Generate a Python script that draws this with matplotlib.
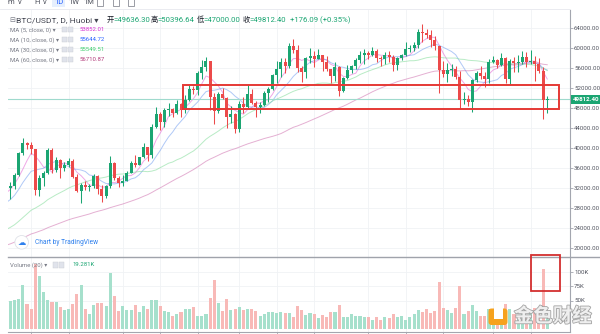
import numpy as np
import pandas as pd
import matplotlib
matplotlib.use("Agg")
import matplotlib.pyplot as plt
import matplotlib.patheffects as pe
from matplotlib.patches import Rectangle, Circle, FancyBboxPatch
from matplotlib.lines import Line2D
from matplotlib.transforms import blended_transform_factory

plt.rcParams['font.family'] = ['Roboto', 'Noto Sans CJK SC', 'DejaVu Sans']

# BTC/USDT daily candles (Huobi), 2021-01-04 .. 2021-05-14
opens = [
    33500, 32000, 32400, 34700, 39000, 41000, 40600, 39800, 31700, 34000,
    35000, 39600, 35700, 37600, 36000, 36700, 37500, 34300, 31500, 32600,
    32200, 32400, 34400, 31800, 30400, 32400, 37000, 34000, 33100, 33500,
    35100, 37000, 36700, 38200, 40200, 38700, 44200, 46800, 45200, 47700,
    47900, 47000, 48900, 47600, 49600, 51900, 51700, 55000, 56300, 57400,
    50200, 47500, 50800, 50100, 46300, 46800, 43800, 48900, 48300, 50900,
    49000, 48200, 48600, 51000, 51800, 54600, 55800, 57300, 56500, 60500,
    59600, 56000, 55300, 58000, 58400, 57900, 58600, 57200, 55800, 54400,
    56300, 51400, 54000, 55700, 56400, 57600, 58600, 59000, 58700, 59400,
    58100, 57900, 58700, 58300, 56700, 58100, 58666.9, 59900, 60100, 60700,
    63300, 63000, 62600, 61600, 60400, 55700, 54800, 55600, 55900, 54200,
    49700, 49900, 49238.1, 53600, 55000, 54500, 53800, 57300, 57700, 56700,
    58000, 53800, 57500, 57000, 57200, 58300, 57187.15, 57500, 56900, 55411.34,
    49636.30,
]
highs = [
    33700, 33300, 35000, 39300, 42000, 41300, 41200, 39900, 34600, 35500,
    40100, 40000, 38200, 37900, 37300, 38000, 37800, 34900, 33000, 33400,
    32900, 34900, 34700, 32600, 32600, 38500, 37300, 34400, 34700, 35400,
    37500, 38700, 38300, 41000, 40300, 44800, 48200, 47300, 48100, 49000,
    48150, 49700, 49000, 50600, 52600, 52500, 55500, 57700, 58350, 57500,
    51000, 51300, 52000, 50200, 48400, 47000, 49500, 50200, 52600, 51800,
    49400, 49200, 51400, 52200, 54900, 57400, 58100, 58000, 61000, 61800,
    60600, 56500, 58200, 60000, 59400, 59900, 58600, 58400, 55900, 57200,
    56500, 54300, 56700, 56600, 58000, 59400, 59800, 59500, 60200, 59800,
    58500, 59200, 59500, 58600, 58300, 58900, 61300, 60600, 61200, 63800,
    64850, 63800, 63600, 62500, 60500, 57500, 57000, 56800, 56500, 55400,
    51200, 50600, 53900, 55400, 56400, 55200, 57900, 58400, 57900, 59000,
    58200, 57900, 58300, 58600, 59500, 59300, 59600, 58400, 58000, 56300,
    50396.64,
]
lows = [
    28800, 29900, 31900, 34500, 38600, 39900, 38800, 30600, 30500, 32500,
    34800, 35100, 35300, 34000, 35500, 36200, 34000, 31200, 29100, 31600,
    31400, 32100, 30900, 29300, 30000, 32000, 33600, 32300, 32400, 33400,
    35000, 36200, 36600, 38100, 37400, 38000, 44000, 43700, 44300, 46500,
    46200, 46900, 46300, 47000, 49400, 50900, 50700, 53900, 55500, 47600,
    44900, 47000, 49800, 44100, 45000, 43000, 43300, 47100, 48100, 48800,
    46300, 47100, 48500, 49300, 51600, 53000, 54300, 55000, 56000, 59000,
    55300, 53300, 54100, 57000, 56300, 57800, 55500, 55400, 53000, 53500,
    50500, 51200, 53800, 55000, 55900, 57100, 56900, 57900, 58400, 57300,
    56500, 56800, 57300, 55500, 55700, 57600, 58400, 59200, 59400, 60000,
    61300, 62000, 60200, 59700, 51100, 54200, 53300, 54500, 53800, 47800,
    48800, 48500, 47300, 53200, 53800, 52300, 53000, 57000, 56000, 56400,
    53100, 52900, 55200, 55300, 56900, 56200, 56800, 53400, 55000, 45800,
    47000,
]
closes = [
    32000, 32400, 34700, 39000, 41000, 40600, 39800, 31700, 34000, 35000,
    39600, 35700, 37600, 36000, 36700, 37500, 34300, 31500, 32600, 32200,
    32400, 34400, 31800, 30400, 32400, 37000, 34000, 33100, 33500, 35100,
    37000, 36700, 38200, 40200, 38700, 44200, 46800, 45200, 47700, 47900,
    47000, 48900, 47600, 49600, 51900, 51700, 55000, 56300, 57400, 50200,
    47500, 50800, 50100, 46300, 46800, 43800, 48900, 48300, 50900, 49000,
    48200, 48600, 51000, 51800, 54600, 55800, 57300, 56500, 60500, 59600,
    56000, 55300, 58000, 58400, 57900, 58600, 57200, 55800, 54400, 56300,
    51400, 54000, 55700, 56400, 57600, 58600, 59000, 58700, 59400, 58100,
    57900, 58700, 58300, 56700, 58100, 58666.9, 59900, 60100, 60700, 63300,
    63000, 62600, 61600, 60400, 55700, 54800, 55600, 55900, 54200, 49700,
    49900, 49238.1, 53600, 55000, 54500, 53800, 57300, 57700, 56700, 58000,
    53800, 57500, 57000, 57200, 58300, 57187.15, 57500, 56900, 55411.34, 49636.31,
    49812.40,
]
# daily volume, thousands of BTC
volumes_k = [
    58, 50, 52, 53, 78, 44, 35, 115, 94, 65,
    51, 48, 48, 39, 33, 35, 44, 62, 77, 35,
    27, 43, 46, 46, 40, 98, 58, 32, 40, 33,
    33, 42, 30, 40, 36, 51, 52, 40, 32, 30,
    24, 26, 30, 35, 36, 39, 24, 24, 27, 55,
    87, 46, 32, 53, 33, 35, 39, 33, 36, 36,
    32, 24, 26, 30, 30, 29, 30, 29, 29, 22,
    40, 33, 25, 28, 27, 19, 25, 22, 30, 31,
    42, 22, 22, 27, 24, 24, 21, 21, 16, 21,
    16, 22, 19, 27, 21, 24, 16, 21, 27, 34,
    31, 35, 28, 32, 82, 37, 33, 28, 37, 76,
    26, 32, 43, 32, 24, 24, 35, 25, 28, 28,
    45, 35, 27, 25, 28, 22, 30, 37, 30, 105,
    19.281,
]
# closes of the sessions before the first candle, warm-up for the moving averages
warmup_closes = [
    15580, 15570, 14830, 15480, 15330, 15290, 15700, 16280, 16320, 16070,
    15960, 16710, 17660, 17780, 17800, 18660, 18700, 18410, 18370, 19160,
    18720, 17150, 17140, 17720, 18190, 19700, 18770, 19200, 19420, 18650,
    19150, 19360, 19170, 18320, 18540, 18250, 18040, 18810, 19180, 19270,
    19430, 21340, 22800, 23110, 23820, 23460, 22720, 23810, 23230, 23730,
    24710, 26490, 26280, 27080, 27390, 28880, 28920, 29330, 32180, 33000,
]
ma_periods = [5, 10, 30, 60]
price_ticks = list(range(20000, 64001, 4000))
volume_ticks = [50, 75, 100]
time_tick_idx = [6, 15, 28, 37, 46, 56, 65, 74, 87, 96, 105, 117, 126]

# colours
UP, DOWN = '#1ba572', '#ec4a4a'
VUP, VDOWN = '#a6e0cc', '#f8b9b7'
AXIS, GRID = '#a3a6af', '#f0f2f5'
TXT, GREY = '#434651', '#787b86'
MA_LINE = ['#e35fd3', '#6f9cf0', '#7edb96', '#cf6fae']
MA_TEXT = ['#d62fd0', '#2962ff', '#3fcf6f', '#b23a7a']
BOX_RED = '#e53935'

W, H = 600, 334
fig = plt.figure(figsize=(W / 100, H / 100), dpi=100)
fig.patch.set_facecolor('white')


def fx(px):
    return px / W


def fy(py):
    return 1 - py / H


X0, DX = 6.2, 4.162                      # pixel centre of first candle, candle pitch
PANE_L, PANE_R = 7.5, 570.0
TOP, SEP, BOT = 10.0, 256.7, 331.5

ax = fig.add_axes([fx(PANE_L), fy(SEP), (PANE_R - PANE_L) / W, (SEP - TOP) / H])
axv = fig.add_axes([fx(PANE_L), fy(BOT), (PANE_R - PANE_L) / W, (BOT - SEP) / H])
for a in (ax, axv):
    a.set_xlim((PANE_L - X0) / DX, (PANE_R - X0) / DX)
    a.set_facecolor('none')
    for s in ('left', 'top'):
        a.spines[s].set_visible(False)
    a.spines['right'].set_color(AXIS)
    a.spines['right'].set_linewidth(0.8)
    a.set_axisbelow(True)
ax.spines['bottom'].set_visible(False)
axv.spines['bottom'].set_color(AXIS)
axv.spines['bottom'].set_linewidth(0.8)
ax.set_ylim(18320, 67660)
axv.set_ylim(-3.85, 126.9)

ax.set_yticks(price_ticks)
ax.set_xticks(time_tick_idx)
ax.tick_params(axis='y', left=False, right=True, length=2, width=0.6, color=AXIS,
               labelleft=False, labelright=False)
ax.tick_params(axis='x', bottom=False, labelbottom=False)
ax.grid(True, color=GRID, lw=0.6)
axv.set_yticks(volume_ticks)
axv.set_xticks(time_tick_idx)
axv.tick_params(axis='y', left=False, right=True, length=2, width=0.6, color=AXIS,
                labelleft=False, labelright=False)
axv.tick_params(axis='x', bottom=True, length=3, width=0.6, color=AXIS, labelbottom=False)
axv.grid(True, color=GRID, lw=0.6)

idx = np.arange(len(closes))
o, h, l, c = (np.asarray(v, dtype=float) for v in (opens, highs, lows, closes))
up = c >= o
ccol = np.where(up, UP, DOWN)

# moving averages
series = pd.Series(np.concatenate([warmup_closes, c]))
n_warm = len(warmup_closes)
ma_last = []
for period, col in zip(ma_periods, MA_LINE):
    ma = series.rolling(period).mean().to_numpy()[n_warm:]
    ma_last.append(ma[-1])
    ax.plot(idx, ma, color=col, lw=0.7, alpha=0.55, zorder=2)

# last-price line
ax.axhline(c[-1], color='#9fdacd', lw=0.8, zorder=2)

# candles
ax.vlines(idx, l, h, colors=ccol, lw=0.75, zorder=3)
ax.bar(idx, np.maximum(np.abs(c - o), 90), bottom=np.minimum(o, c), width=0.72,
       color=ccol, linewidth=0, zorder=4)

# volume
axv.bar(idx, volumes_k, width=0.74, color=np.where(up, VUP, VDOWN), linewidth=0)

# support zone drawn on the price pane
ZONE_X0, ZONE_X1 = 42.55, 132.9
ZONE_LO, ZONE_HI = 47800, 52660
ax.add_patch(Rectangle((ZONE_X0, ZONE_LO), ZONE_X1 - ZONE_X0, ZONE_HI - ZONE_LO,
                       fill=False, ec=BOX_RED, lw=1.4, zorder=6))
# highlight around the latest volume spike
fig.add_artist(Rectangle((fx(531), fy(291.3)), 29 / W, 36 / H, transform=fig.transFigure,
                         fill=False, ec='#d32f2f', lw=1.3, zorder=10))

# right-hand scale labels
trp = blended_transform_factory(ax.transAxes, ax.transData)
off = 4 / (PANE_R - PANE_L)
for p in price_ticks:
    ax.text(1 + off, p, f'{p:.2f}', transform=trp, ha='left', va='center',
            fontsize=4.4, color='#50535e', clip_on=False)
trv = blended_transform_factory(axv.transAxes, axv.transData)
for v in volume_ticks:
    axv.text(1 + off, v, f'{v}K', transform=trv, ha='left', va='center',
             fontsize=4.4, color='#50535e', clip_on=False)
ax.text(1 + 2.5 / (PANE_R - PANE_L), c[-1], f'{c[-1]:.2f}', transform=trp, ha='left',
        va='center', fontsize=4.5, color='white', fontweight='bold', clip_on=False,
        bbox=dict(boxstyle='square,pad=0.3', fc=UP, ec='none'), zorder=8)

# pane separators
fig.add_artist(Line2D([fx(PANE_L), 1], [fy(SEP)] * 2, color='#a0a3ab', lw=1.0))
fig.add_artist(Line2D([0, fx(PANE_R)], [fy(9.3)] * 2, color='#e6e8ee', lw=0.6))

# toolbar (partly outside the image)
tb_y = fy(2.2)
for x, s in [(8, 'm'), (18, 'v'), (34, 'H'), (43, 'v'), (68, '1W'), (83, '1M')]:
    fig.text(fx(x), tb_y, s, fontsize=5.5, color='#50535e', va='center')
fig.add_artist(Rectangle((fx(51.7), fy(6.7)), 13.3 / W, 8 / H, transform=fig.transFigure,
                         fc='#e6effd', ec='none'))
fig.text(fx(54.5), tb_y, '1D', fontsize=5.5, color='#2962ff', va='center')
for x in (97, 113, 128):
    fig.add_artist(Rectangle((fx(x), fy(5.5)), 6 / W, 6 / H, transform=fig.transFigure,
                             fill=False, ec='#8a8d96', lw=0.6))

# legend: symbol and last bar
hy = fy(20)
fig.text(fx(9), hy, '⊟', fontsize=5, color=GREY, va='center', family=['DejaVu Sans'])
fig.text(fx(16), hy, 'BTC/USDT, D, Huobi ▾', fontsize=6.1, color=TXT, va='center')
ohlc = [('开', o[-1], 106.5), ('高', h[-1], 150.5), ('低', l[-1], 196.5), ('收', c[-1], 242.5)]
for lab, val, x in ohlc:
    fig.text(fx(x), hy, lab, fontsize=5.2, color='#131722', va='center',
             family=['Noto Sans CJK SC'])
    fig.text(fx(x + 7.3), hy, f'={val:.2f}', fontsize=5.6, color=UP, va='center')
chg = c[-1] - c[-2]
fig.text(fx(290), hy, f'+{chg:.2f} (+{chg / c[-2] * 100:.2f}%)', fontsize=5.6,
         color=UP, va='center')


def icon_pair(x, y):
    for dx in (0, 6.2):
        fig.add_artist(Rectangle((fx(x + dx), fy(y + 2.6)), 5.2 / W, 5.2 / H,
                                 transform=fig.transFigure, fc='#e0e3eb', ec='#c9ccd3', lw=0.3))


for k, (period, tcol) in enumerate(zip(ma_periods, MA_TEXT)):
    y = 29.7 + 10 * k
    fig.text(fx(10), fy(y), f'MA ({period}, close, 0) ▾', fontsize=4.3, color=GREY, va='center')
    icon_pair(62, y)
    fig.text(fx(80), fy(y), f'{ma_last[k]:.2f}', fontsize=4.3, color=tcol, va='center')

fig.text(fx(10), fy(265), 'Volume (20) ▾', fontsize=4.3, color=GREY, va='center')
icon_pair(53, 265)
fig.text(fx(72), fy(265), f'{volumes_k[-1]:.3f}K', fontsize=4.3, color=UP, va='center')

# "Chart by TradingView" badge
cx, cy = 21.7 / 100, (H - 242.3) / 100
fig.add_artist(Circle((cx, cy), 0.068, transform=fig.dpi_scale_trans, fc='white',
                      ec='#dfe2e8', lw=0.6))
fig.text(fx(21.7), fy(242.6), '☁', fontsize=6, color='#2f80ed', ha='center', va='center',
         family=['DejaVu Sans'])
fig.text(fx(35), fy(242.3), 'Chart by TradingView', fontsize=4.8, color='#2f80ed', va='center')

# watermark
fig.add_artist(FancyBboxPatch((488.5 / 100, (H - 325) / 100), 0.19, 0.165,
                              boxstyle='round,pad=0,rounding_size=0.03',
                              transform=fig.dpi_scale_trans, fc='#f6a21e', ec='none', zorder=20))
fig.add_artist(Rectangle((494 / 100, (H - 319) / 100), 0.085, 0.115,
                         transform=fig.dpi_scale_trans, fc='white', ec='none', zorder=21))
fig.add_artist(Rectangle((489.5 / 100, (H - 314) / 100), 0.035, 0.05,
                         transform=fig.dpi_scale_trans, fc='#f6a21e', ec='none', zorder=22))
fig.text(fx(553), fy(316.5), '金色财经', fontsize=14, color='#efefef', ha='center', va='center',
         family=['Noto Sans CJK SC'], fontweight='bold', zorder=23,
         path_effects=[pe.withStroke(linewidth=1.2, foreground='#a3a3a3')])

fig.savefig('out.png', dpi=100)
